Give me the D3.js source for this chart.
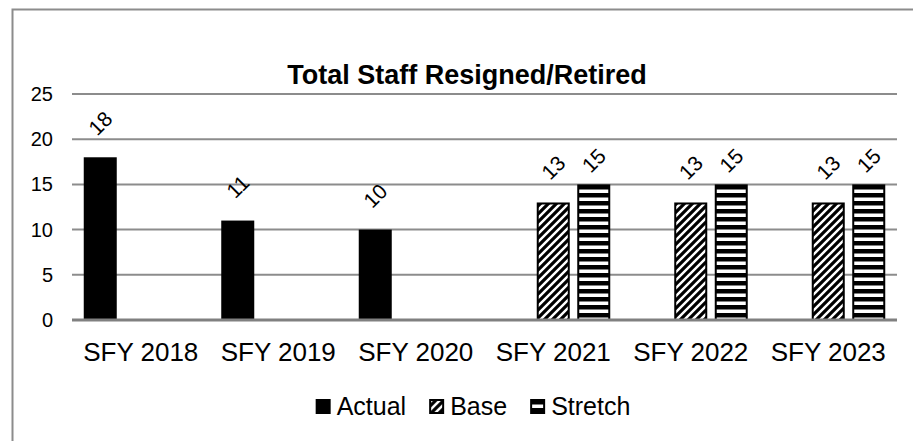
<!DOCTYPE html>
<html>
<head>
<meta charset="utf-8">
<script src="https://cdn.jsdelivr.net/npm/d3@7/dist/d3.min.js"></script>
<style>
  html, body { margin: 0; padding: 0; background: #fff; }
  svg { display: block; font-family: "Liberation Sans", Arial, sans-serif; }
</style>
</head>
<body>
<svg id="chart" width="913" height="441"></svg>
<script>
const title = "Total Staff Resigned/Retired";
const categories = ["SFY 2018", "SFY 2019", "SFY 2020", "SFY 2021", "SFY 2022", "SFY 2023"];
const seriesNames = ["Actual", "Base", "Stretch"];
const actualValues = [18, 11, 10, null, null, null];
const baseValues = [null, null, null, 13, 13, 13];
const stretchValues = [null, null, null, 15, 15, 15];
const yTicks = [0, 5, 10, 15, 20, 25];

const seriesValues = [actualValues, baseValues, stretchValues];
const fills = { Actual: "#000", Base: "url(#diag)", Stretch: "url(#horiz)" };
const labelOffset = { Actual: 34, Base: 35, Stretch: 24 };

const svg = d3.select("#chart");
const W = 913, H = 441;
const margin = { left: 72, right: 16, top: 94, bottom: 121 };

// patterns
const defs = svg.append("defs");
const diag = defs.append("pattern").attr("id", "diag").attr("patternUnits", "userSpaceOnUse")
  .attr("width", 8).attr("height", 8);
diag.append("rect").attr("width", 8).attr("height", 8).attr("fill", "#fff");
diag.append("path").attr("d", "M-2,10 L10,-2 M-2,2 L2,-2 M6,10 L10,6")
  .attr("stroke", "#000").attr("stroke-width", 3.2);
const horiz = defs.append("pattern").attr("id", "horiz").attr("patternUnits", "userSpaceOnUse")
  .attr("width", 8).attr("height", 8).attr("y", 1);
horiz.append("rect").attr("width", 8).attr("height", 8).attr("fill", "#fff");
horiz.append("rect").attr("y", 0).attr("width", 8).attr("height", 4.5).attr("fill", "#000");

// border of chart area
svg.append("path").attr("d", `M12.5,${H} L12.5,9.5 L${W},9.5`)
  .attr("fill", "none").attr("stroke", "#8c8c8c").attr("stroke-width", 2);

const x0 = d3.scaleBand().domain(categories).range([margin.left, W - margin.right]).padding(0);
const x1 = d3.scaleBand().domain(seriesNames).range([0, x0.bandwidth()])
  .paddingInner(0.185).paddingOuter(0.29);
const y = d3.scaleLinear().domain([0, 25]).range([H - margin.bottom, margin.top]);

// gridlines
svg.append("g").selectAll("line").data(yTicks.filter(t => t > 0)).join("line")
  .attr("x1", margin.left).attr("x2", W - margin.right)
  .attr("y1", d => y(d)).attr("y2", d => y(d))
  .attr("stroke", "#8c8c8c").attr("stroke-width", 2);

// y axis labels
const yAxis = d3.axisLeft(y).tickValues(yTicks).tickSize(0).tickPadding(19);
const gy = svg.append("g").attr("transform", `translate(${margin.left},0)`).call(yAxis);
gy.select(".domain").remove();
gy.selectAll("text").attr("font-size", 20).attr("fill", "#000")
  .attr("font-family", "Liberation Sans, Arial, sans-serif");

// bars
const barData = [];
categories.forEach((c, i) => {
  seriesNames.forEach((s, j) => {
    const v = seriesValues[j][i];
    if (v != null) barData.push({ c, s, v });
  });
});
const gb = svg.append("g");
gb.selectAll("rect").data(barData).join("rect")
  .attr("x", d => x0(d.c) + x1(d.s) + (d.s === "Actual" ? 0 : 1))
  .attr("width", d => x1.bandwidth() - (d.s === "Actual" ? 0 : 2))
  .attr("y", d => y(d.v) + (d.s === "Actual" ? 0 : 1))
  .attr("height", d => y(0) - y(d.v) - (d.s === "Actual" ? 0 : 1))
  .attr("fill", d => fills[d.s])
  .attr("stroke", d => d.s === "Actual" ? "none" : "#000")
  .attr("stroke-width", 2);

// data labels
gb.selectAll("text").data(barData).join("text")
  .attr("transform", d => `translate(${x0(d.c) + x1(d.s) + x1.bandwidth() / 2},${y(d.v) - labelOffset[d.s]}) rotate(-45)`)
  .attr("text-anchor", "middle").attr("dominant-baseline", "central")
  .attr("font-size", 21).attr("fill", "#000")
  .text(d => d.v);

// x axis baseline
svg.append("line").attr("x1", margin.left).attr("x2", W - margin.right)
  .attr("y1", y(0)).attr("y2", y(0)).attr("stroke", "#808080").attr("stroke-width", 3);

// x axis labels
const xAxis = d3.axisBottom(x0).tickSize(0).tickPadding(23);
const gx = svg.append("g").attr("transform", `translate(0,${y(0)})`).call(xAxis);
gx.select(".domain").remove();
gx.selectAll("text").attr("font-size", 26).attr("fill", "#000")
  .attr("font-family", "Liberation Sans, Arial, sans-serif");

// title
svg.append("text").attr("x", 467).attr("y", 84).attr("text-anchor", "middle")
  .attr("font-size", 27).attr("font-weight", "bold").text(title);

// legend
const legend = svg.append("g");
const legendFont = 25;
let lx = 0;
seriesNames.forEach(s => {
  const g = legend.append("g").attr("transform", `translate(${lx},0)`);
  g.append("rect").attr("x", s === "Actual" ? 0 : 1).attr("y", -16 + (s === "Actual" ? 0 : 1))
    .attr("width", s === "Actual" ? 15 : 13).attr("height", s === "Actual" ? 15 : 13)
    .attr("fill", fills[s]).attr("stroke", s === "Actual" ? "none" : "#000").attr("stroke-width", 2);
  const t = g.append("text").attr("x", 21).attr("y", 0).attr("font-size", legendFont).text(s);
  const w = t.node().getComputedTextLength();
  lx += 21 + w + 23;
});
const totalW = lx - 23;
legend.attr("transform", `translate(${473 - totalW / 2},415)`);
</script>
</body>
</html>
